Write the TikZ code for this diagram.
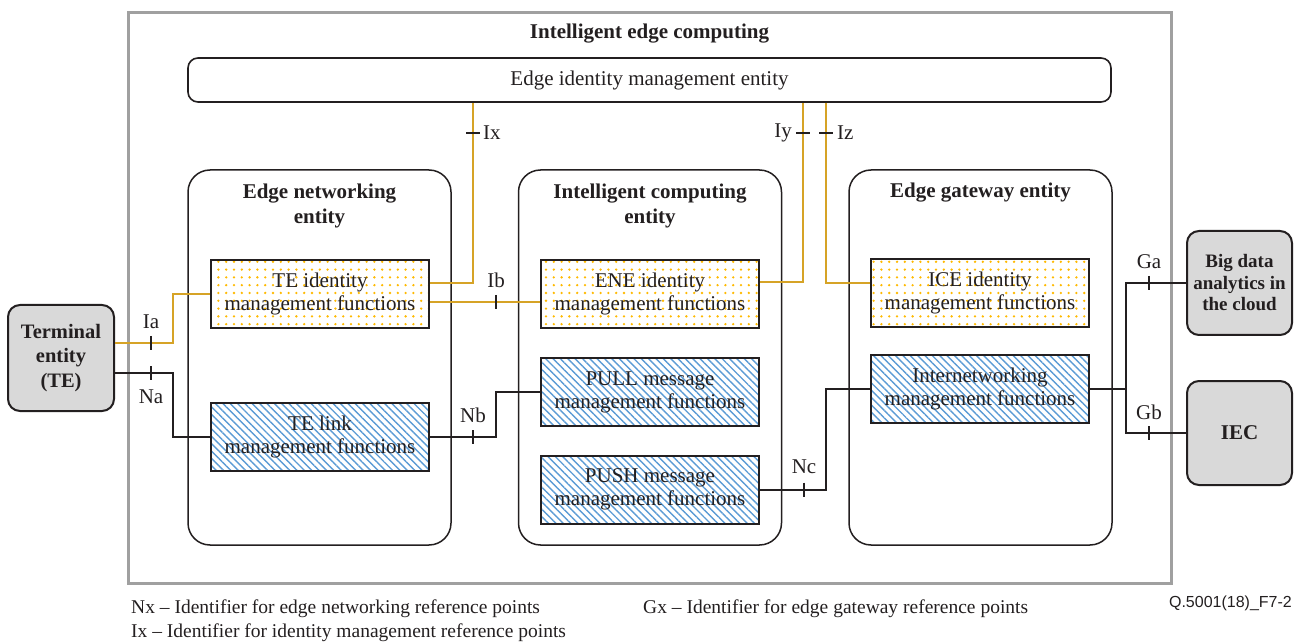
\documentclass[tikz,border=0pt]{standalone}
\usepackage{fontspec}
\setmainfont{Liberation Serif}
\newfontfamily\figidfont{Liberation Sans}
\usetikzlibrary{patterns.meta,calc}

\definecolor{linek}{RGB}{35,31,32}
\definecolor{idgold}{RGB}{214,163,38}
\definecolor{dotyellow}{RGB}{255,185,0}
\definecolor{hatchblue}{RGB}{91,155,213}
\definecolor{boxgray}{RGB}{217,217,217}
\definecolor{framegray}{RGB}{160,160,160}

\begin{document}
\begin{tikzpicture}[x=1pt,y=-1pt,
  every node/.style={inner sep=0pt, font=\fontsize{21}{23}\selectfont, text=linek},
  frame/.style={draw=framegray, line width=3pt, minimum width=1043pt, minimum height=570pt},
  headline/.style={font=\bfseries\fontsize{21}{25}\selectfont, align=center},
  entity/.style={draw=linek, line width=1.5pt, rounded corners=22pt,
    minimum width=263pt, minimum height=375pt},
  fnbox/.style={draw=linek, line width=2pt, minimum width=218pt, minimum height=68pt, align=center},
  idfn/.style={fnbox, pattern={Dots[distance=7.8pt, radius=1.3pt]}, pattern color=dotyellow},
  linkfn/.style={fnbox, pattern={Lines[angle=-45, distance=5.2pt, line width=1.4pt]}, pattern color=hatchblue},
  outside/.style={draw=linek, line width=2pt, fill=boxgray, rounded corners=12pt,
    minimum width=105pt, minimum height=104pt, align=center,
    font=\bfseries\fontsize{21}{21.5}\selectfont},
  idwire/.style={draw=idgold, line width=2pt},
  netwire/.style={draw=linek, line width=2pt},
  tick/.style={draw=linek, line width=2pt},
  legend/.style={font=\fontsize{19.5}{22}\selectfont, anchor=base west}]

\useasboundingbox (0,0) rectangle (1304,644);

% outer frame and heading
\node[frame] (frame) at (649.5,298) {};
\node[headline] (title) at (649.5,34) {Intelligent edge computing};

% edge identity management entity
\node[draw=linek, line width=1.6pt, rounded corners=10pt, minimum width=923pt, minimum height=44pt]
  (eim) at (649.5,80) {Edge identity management entity};

% the three entities
\node[entity] (net) at (319.5,357.5) {};
\node[entity] (comp) at (650,357.5) {};
\node[entity] (gw) at (980.5,357.5) {};
\node[headline] (nettitle) at (319.5,205.5) {Edge networking\\entity};
\node[headline] (comptitle) at (650,206) {Intelligent computing\\entity};
\node[headline] (gwtitle) at (980.5,193) {Edge gateway entity};

% identity management functions
\node[idfn] (teid) at (320,294) {TE identity\\management functions};
\node[idfn] (eneid) at (650,294) {ENE identity\\management functions};
\node[idfn] (iceid) at (980,293) {ICE identity\\management functions};

% link and message management functions
\node[linkfn] (telink) at (320,437) {TE link\\management functions};
\node[linkfn] (pull) at (650,392) {PULL message\\management functions};
\node[linkfn] (push) at (650,489.5) {PUSH message\\management functions};
\node[linkfn] (inet) at (980,389) {Internetworking\\management functions};

% external entities
\node[outside, minimum width=106pt, minimum height=106pt, font=\bfseries\fontsize{20.5}{24.5}\selectfont]
  (term) at (61,358) {Terminal\\entity\\(TE)};
\node[outside, font=\bfseries\fontsize{19}{21.5}\selectfont] (cloud) at (1239.5,283) {Big data\\analytics in\\the cloud};
\node[outside] (iec) at (1239.5,433) {IEC};

% reference point positions
\coordinate (ia) at (151,343);
\coordinate (na) at (151,373);
\coordinate (ib) at (496,302);
\coordinate (nb) at (473,437);
\coordinate (nc) at (804,489.5);
\coordinate (ix) at (473,133);
\coordinate (iy) at (803,133);
\coordinate (iz) at (826,133);
\coordinate (ga) at (1149,283);
\coordinate (gb) at (1149,433);
\coordinate (gj) at (1126,389);

% identity management connectors
\draw[idwire] (term.east |- ia) -- (ia) -- (173,343) |- (teid.west);
\draw[idwire] ($(teid.east)+(0,-11)$) -| (ix) -- (ix |- eim.south);
\draw[idwire] ($(teid.east)+(0,8)$) -- ($(eneid.west)+(0,8)$);
\draw[idwire] ($(eneid.east)+(0,-12)$) -| (iy) -- (iy |- eim.south);
\draw[idwire] (iz |- eim.south) -- (iz) |- ($(iceid.west)+(0,-10)$);

% networking connectors
\draw[netwire] (term.east |- na) -- (na) -- (173,373) |- (telink.west);
\draw[netwire] (telink.east) -- (nb) -- (496,437) |- (pull.west);
\draw[netwire] (push.east) -- (nc) -- (826,489.5) |- (inet.west);
\draw[netwire] (inet.east) -- (gj);
\draw[netwire] (cloud.west) -| (gj) |- (iec.west);

% reference point ticks
\foreach \p in {ia,na,ib,nb,nc,ga,gb}
  \draw[tick] ($(\p)+(0,-7)$) -- ($(\p)+(0,7)$);
\foreach \p in {ix,iy,iz}
  \draw[tick] ($(\p)+(-7,0)$) -- ($(\p)+(7,0)$);

% reference point labels
\node (lia) at (151,322) {Ia};
\node (lna) at (151,397) {Na};
\node (lib) at (496,280) {Ib};
\node (lnb) at (473,415) {Nb};
\node (lnc) at (804,467) {Nc};
\node (lga) at (1149,262) {Ga};
\node (lgb) at (1149,412) {Gb};
\node[anchor=west] (lix) at (483,133) {Ix};
\node[anchor=east] (liy) at (792,133) {Iy};
\node[anchor=west] (liz) at (837,133) {Iz};

% key
\node[legend] (keynx) at (131,613) {Nx – Identifier for edge networking reference points};
\node[legend] (keyix) at (131,637) {Ix – Identifier for identity management reference points};
\node[legend] (keygx) at (643,613) {Gx – Identifier for edge gateway reference points};
\node[font=\figidfont\fontsize{16}{16}\selectfont, anchor=base east] (figid) at (1292,607) {Q.5001(18)\_F7-2};

\end{tikzpicture}
\end{document}
